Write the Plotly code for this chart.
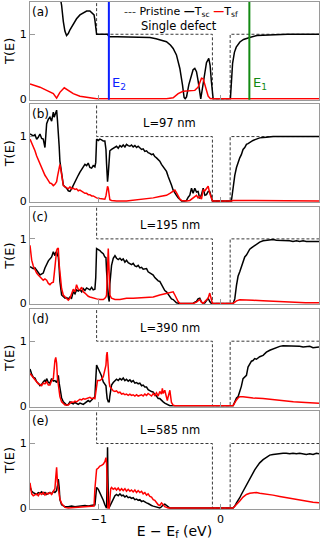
import plotly.graph_objects as go
from plotly.subplots import make_subplots

# energies of the marked levels in panel (a)
E1 = 0.238
E2 = -0.918

# pristine (clean ribbon) transmission step, same for every panel
pr_x = [-1.567, -1.019, -1.019, -0.066, -0.066, 0.08, 0.08, 0.811]
pr_y = [2, 2, 1, 1, 0, 0, 1, 1]

# (a) single defect
a_sc_x = [-1.567, -1.40, -1.33, -1.307, -1.293, -1.280, -1.266, -1.252, -1.238, -1.211, -1.184, -1.156,
          -1.129, -1.101, -1.074, -1.060, -1.047, -1.040, -1.033, -1.026, -1.019, -0.992, -0.964, -0.930,
          -0.918, -0.910, -0.85, -0.75, -0.65, -0.58, -0.53, -0.49, -0.444, -0.41, -0.389, -0.362, -0.334,
          -0.312, -0.299, -0.290, -0.279, -0.26, -0.24, -0.225, -0.211, -0.197, -0.184, -0.170, -0.162,
          -0.15, -0.13, -0.115, -0.096, -0.085, -0.075, -0.066, -0.060, 0.082, 0.09, 0.10, 0.115, 0.13,
          0.16, 0.19, 0.24, 0.30, 0.40, 0.55, 0.811]
a_sc_y = [3.0, 2.4, 1.7, 1.45, 1.20, 1.05, 0.98, 1.01, 1.07, 1.16, 1.24, 1.30,
          1.33, 1.36, 1.36, 1.34, 1.31, 1.30, 1.22, 1.05, 1.00, 1.00, 1.00, 1.00,
          0.97, 0.96, 0.96, 0.955, 0.95, 0.95, 0.93, 0.91, 0.885, 0.83, 0.78, 0.68, 0.47,
          0.21, 0.02, 0.0, 0.03, 0.22, 0.38, 0.45, 0.47, 0.42, 0.28, 0.10, 0.0,
          0.14, 0.42, 0.56, 0.625, 0.52, 0.28, 0.04, 0.0, 0.0, 0.30, 0.55, 0.72, 0.80,
          0.88, 0.92, 0.95, 0.98, 0.99, 1.0, 1.0]
a_sf_x = [-1.567, -1.485, -1.430, -1.375, -1.348, -1.321, -1.285, -1.252, -1.211, -1.156, -1.074, -1.019,
          -0.9, -0.444, -0.389, -0.348, -0.307, -0.252, -0.211, -0.184, -0.156, -0.142, -0.120, -0.101,
          -0.082, -0.066, 0.811]
a_sf_y = [0.23, 0.18, 0.13, 0.08, 0.01, 0.10, 0.17, 0.13, 0.08, 0.04, 0.015, 0.0,
          0.0, 0.0, 0.015, 0.08, 0.115, 0.125, 0.13, 0.18, 0.32, 0.31, 0.16, 0.04,
          0.0, 0.0, 0.0]

# (b) L = 97 nm
b_sc_x = [-1.567, -1.553, -1.540, -1.526, -1.512, -1.499, -1.485, -1.471, -1.458, -1.444, -1.437, -1.430,
          -1.416, -1.403, -1.389, -1.382, -1.375, -1.368, -1.362, -1.355, -1.348, -1.341, -1.334, -1.327,
          -1.321, -1.307, -1.293, -1.279, -1.266, -1.252, -1.238, -1.225, -1.211, -1.197, -1.184, -1.170,
          -1.156, -1.142, -1.129, -1.115, -1.101, -1.088, -1.074, -1.060, -1.047, -1.033, -1.026, -1.019,
          -1.005, -0.992, -0.978, -0.964, -0.951, -0.942, -0.937, -0.929, -0.923, -0.915, -0.910, -0.896,
          -0.882, -0.868, -0.855, -0.841, -0.827, -0.813, -0.800, -0.786, -0.773, -0.759, -0.745, -0.732,
          -0.718, -0.704, -0.690, -0.677, -0.663, -0.649, -0.636, -0.622, -0.608, -0.595, -0.581, -0.567,
          -0.553, -0.540, -0.526, -0.512, -0.499, -0.485, -0.471, -0.458, -0.444, -0.430, -0.416, -0.403,
          -0.389, -0.375, -0.362, -0.348, -0.334, -0.320, -0.293, -0.279, -0.265, -0.252, -0.238, -0.225,
          -0.211, -0.197, -0.184, -0.170, -0.156, -0.142, -0.128, -0.115, -0.101, -0.088, -0.074, -0.066,
          0.090, 0.097, 0.104, 0.118, 0.132, 0.145, 0.159, 0.172, 0.186, 0.200, 0.214, 0.227,
          0.241, 0.268, 0.296, 0.323, 0.378, 0.433, 0.542, 0.652, 0.811]
b_sc_y = [1.04, 1.03, 1.01, 1.03, 0.96, 0.99, 1.04, 0.97, 0.96, 0.83, 1.02, 1.20,
          1.27, 1.30, 1.24, 1.33, 1.38, 1.30, 1.33, 1.37, 1.41, 1.25, 1.09, 0.85,
          0.62, 0.41, 0.25, 0.22, 0.20, 0.16, 0.15, 0.19, 0.25, 0.30, 0.36, 0.40,
          0.45, 0.49, 0.52, 0.57, 0.55, 0.59, 0.52, 0.51, 0.55, 0.53, 0.60, 0.96,
          0.94, 0.96, 0.95, 0.93, 0.93, 0.80, 0.58, 0.30, 0.42, 0.70, 0.78, 0.80,
          0.82, 0.83, 0.85, 0.82, 0.86, 0.84, 0.87, 0.84, 0.88, 0.86, 0.85, 0.87,
          0.84, 0.86, 0.83, 0.85, 0.82, 0.80, 0.81, 0.77, 0.78, 0.75, 0.74, 0.72,
          0.73, 0.69, 0.67, 0.64, 0.62, 0.57, 0.53, 0.48, 0.46, 0.38, 0.32, 0.25,
          0.17, 0.12, 0.09, 0.05, 0.02, 0.00, 0.00, 0.01, 0.06, 0.09, 0.20, 0.12,
          0.20, 0.14, 0.15, 0.04, 0.10, 0.20, 0.09, 0.10, 0.15, 0.15, 0.06, 0.00,
          0.00, 0.10, 0.25, 0.40, 0.52, 0.60, 0.67, 0.72, 0.80, 0.83, 0.88, 0.89,
          0.91, 0.94, 0.96, 0.98, 0.99, 1.00, 1.00, 1.00, 1.00]
b_sf_x = [-1.567, -1.553, -1.540, -1.526, -1.512, -1.499, -1.485, -1.471, -1.458, -1.444, -1.430, -1.416,
          -1.403, -1.389, -1.375, -1.362, -1.348, -1.341, -1.334, -1.327, -1.321, -1.314, -1.307, -1.300,
          -1.293, -1.279, -1.266, -1.252, -1.238, -1.225, -1.211, -1.197, -1.184, -1.170, -1.156, -1.142,
          -1.129, -1.115, -1.101, -1.088, -1.074, -1.060, -1.047, -1.033, -1.019, -0.992, -0.964, -0.951,
          -0.942, -0.937, -0.929, -0.923, -0.915, -0.910, -0.896, -0.855, -0.773, -0.718, -0.663, -0.608,
          -0.553, -0.499, -0.444, -0.416, -0.389, -0.375, -0.362, -0.348, -0.334, -0.320, -0.279, -0.252,
          -0.225, -0.197, -0.184, -0.170, -0.156, -0.142, -0.128, -0.115, -0.101, -0.088, -0.074, -0.066,
          0.090, 0.104, 0.200, 0.400, 0.811]
b_sf_y = [0.96, 0.90, 0.86, 0.78, 0.70, 0.64, 0.57, 0.50, 0.44, 0.40, 0.36, 0.32,
          0.28, 0.27, 0.24, 0.26, 0.30, 0.38, 0.46, 0.55, 0.57, 0.50, 0.44, 0.33,
          0.24, 0.22, 0.21, 0.19, 0.22, 0.19, 0.20, 0.18, 0.19, 0.16, 0.17, 0.15,
          0.14, 0.12, 0.12, 0.10, 0.10, 0.08, 0.08, 0.06, 0.05, 0.04, 0.03, 0.03,
          0.08, 0.15, 0.23, 0.20, 0.06, 0.02, 0.01, 0.00, 0.00, 0.01, 0.02, 0.03,
          0.05, 0.07, 0.09, 0.12, 0.15, 0.17, 0.13, 0.08, 0.03, 0.01, 0.00, 0.01,
          0.05, 0.09, 0.05, 0.07, 0.03, 0.17, 0.16, 0.19, 0.23, 0.12, 0.03, 0.00,
          0.00, 0.01, 0.01, 0.005, 0.003]

# (c) L = 195 nm
c_sc_x = [-1.567, -1.553, -1.540, -1.526, -1.512, -1.499, -1.485, -1.471, -1.458, -1.444, -1.430, -1.416,
          -1.403, -1.389, -1.375, -1.368, -1.362, -1.355, -1.348, -1.341, -1.334, -1.327, -1.321, -1.307,
          -1.293, -1.279, -1.266, -1.252, -1.238, -1.225, -1.211, -1.197, -1.184, -1.170, -1.156, -1.142,
          -1.129, -1.115, -1.101, -1.088, -1.074, -1.060, -1.047, -1.033, -1.026, -1.019, -1.005, -0.992,
          -0.978, -0.964, -0.951, -0.942, -0.937, -0.932, -0.923, -0.915, -0.910, -0.896, -0.882, -0.868,
          -0.855, -0.841, -0.827, -0.813, -0.800, -0.786, -0.773, -0.759, -0.745, -0.732, -0.718, -0.704,
          -0.690, -0.677, -0.663, -0.649, -0.636, -0.622, -0.608, -0.595, -0.581, -0.567, -0.553, -0.540,
          -0.526, -0.512, -0.499, -0.485, -0.471, -0.458, -0.444, -0.430, -0.416, -0.403, -0.389, -0.375,
          -0.362, -0.334, -0.225, -0.211, -0.197, -0.184, -0.170, -0.156, -0.142, -0.128, -0.115, -0.101,
          -0.088, -0.074, 0.104, 0.118, 0.132, 0.145, 0.159, 0.172, 0.186, 0.200, 0.214, 0.227,
          0.241, 0.255, 0.268, 0.296, 0.323, 0.351, 0.378, 0.406, 0.433, 0.460, 0.488, 0.515,
          0.542, 0.570, 0.597, 0.625, 0.652, 0.680, 0.707, 0.735, 0.762, 0.790, 0.811]
c_sc_y = [0.57, 0.55, 0.54, 0.55, 0.52, 0.48, 0.44, 0.46, 0.47, 0.55, 0.62, 0.66,
          0.69, 0.72, 0.80, 0.76, 0.74, 0.79, 0.80, 0.75, 0.72, 0.55, 0.34, 0.13,
          0.10, 0.08, 0.09, 0.07, 0.10, 0.08, 0.18, 0.15, 0.21, 0.19, 0.21, 0.18,
          0.23, 0.20, 0.24, 0.23, 0.21, 0.25, 0.21, 0.22, 0.40, 0.85, 0.84, 0.82,
          0.79, 0.77, 0.72, 0.71, 0.50, 0.25, 0.10, 0.03, 0.30, 0.59, 0.70, 0.74,
          0.70, 0.68, 0.70, 0.67, 0.69, 0.64, 0.67, 0.63, 0.62, 0.60, 0.62, 0.58,
          0.57, 0.59, 0.55, 0.56, 0.53, 0.54, 0.54, 0.49, 0.47, 0.45, 0.44, 0.40,
          0.37, 0.35, 0.34, 0.29, 0.25, 0.20, 0.18, 0.14, 0.10, 0.07, 0.06, 0.03,
          0.01, 0.00, 0.00, 0.02, 0.03, 0.07, 0.08, 0.02, 0.00, 0.01, 0.04, 0.08,
          0.03, 0.00, 0.00, 0.07, 0.28, 0.42, 0.49, 0.56, 0.66, 0.72, 0.75, 0.79,
          0.84, 0.86, 0.88, 0.92, 0.95, 0.97, 0.98, 0.98, 0.99, 0.98, 0.98, 0.97,
          0.98, 0.97, 0.96, 0.97, 0.96, 0.97, 0.96, 0.96, 0.95, 0.96, 0.96]
c_sf_x = [-1.567, -1.560, -1.553, -1.540, -1.526, -1.512, -1.499, -1.485, -1.471, -1.458, -1.444, -1.430,
          -1.416, -1.403, -1.389, -1.375, -1.368, -1.362, -1.355, -1.348, -1.341, -1.334, -1.327, -1.321,
          -1.314, -1.307, -1.293, -1.279, -1.266, -1.252, -1.238, -1.225, -1.211, -1.197, -1.184, -1.170,
          -1.156, -1.142, -1.129, -1.115, -1.101, -1.088, -1.074, -1.060, -1.047, -1.033, -1.019, -0.992,
          -0.964, -0.951, -0.942, -0.937, -0.932, -0.929, -0.923, -0.918, -0.915, -0.910, -0.896, -0.868,
          -0.827, -0.773, -0.718, -0.663, -0.608, -0.553, -0.499, -0.458, -0.430, -0.403, -0.389, -0.375,
          -0.362, -0.348, -0.334, -0.225, -0.197, -0.170, -0.156, -0.142, -0.128, -0.115, -0.101, -0.088,
          -0.074, -0.066, 0.104, 0.132, 0.159, 0.200, 0.268, 0.350, 0.460, 0.570, 0.700, 0.811]
c_sf_y = [0.90, 0.80, 0.67, 0.58, 0.52, 0.47, 0.44, 0.41, 0.38, 0.36, 0.38, 0.36,
          0.31, 0.29, 0.32, 0.33, 0.45, 0.60, 0.74, 0.82, 0.85, 0.85, 0.60, 0.44,
          0.30, 0.23, 0.13, 0.10, 0.07, 0.05, 0.08, 0.16, 0.22, 0.18, 0.29, 0.22,
          0.21, 0.25, 0.18, 0.16, 0.13, 0.11, 0.10, 0.09, 0.08, 0.07, 0.07, 0.06,
          0.06, 0.08, 0.10, 0.13, 0.40, 0.70, 0.85, 0.60, 0.30, 0.13, 0.08, 0.06,
          0.06, 0.08, 0.08, 0.09, 0.09, 0.10, 0.13, 0.15, 0.16, 0.18, 0.18, 0.13,
          0.08, 0.03, 0.00, 0.00, 0.02, 0.06, 0.02, 0.00, 0.03, 0.06, 0.08, 0.16,
          0.02, 0.00, 0.00, 0.04, 0.056, 0.05, 0.05, 0.04, 0.03, 0.02, 0.01, 0.01]

# (d) L = 390 nm
d_sc_x = [-1.567, -1.560, -1.553, -1.540, -1.526, -1.512, -1.499, -1.485, -1.471, -1.458, -1.444, -1.437,
          -1.430, -1.416, -1.403, -1.389, -1.375, -1.362, -1.348, -1.341, -1.334, -1.327, -1.321, -1.307,
          -1.293, -1.279, -1.266, -1.252, -1.238, -1.225, -1.211, -1.197, -1.184, -1.170, -1.156, -1.142,
          -1.129, -1.115, -1.101, -1.088, -1.074, -1.060, -1.047, -1.033, -1.026, -1.019, -1.012, -1.005,
          -0.992, -0.978, -0.964, -0.951, -0.942, -0.937, -0.932, -0.923, -0.915, -0.910, -0.896, -0.882,
          -0.868, -0.855, -0.841, -0.827, -0.813, -0.800, -0.786, -0.773, -0.759, -0.745, -0.732, -0.718,
          -0.704, -0.690, -0.677, -0.663, -0.649, -0.636, -0.622, -0.608, -0.595, -0.581, -0.567, -0.553,
          -0.540, -0.526, -0.512, -0.499, -0.485, -0.471, -0.458, -0.444, -0.430, -0.416, 0.104, 0.118,
          0.132, 0.145, 0.159, 0.172, 0.186, 0.200, 0.214, 0.227, 0.241, 0.255, 0.268, 0.282,
          0.296, 0.323, 0.351, 0.378, 0.406, 0.433, 0.460, 0.488, 0.515, 0.542, 0.570, 0.597,
          0.625, 0.652, 0.680, 0.707, 0.735, 0.762, 0.790, 0.811]
d_sc_y = [0.57, 0.52, 0.49, 0.44, 0.43, 0.37, 0.35, 0.31, 0.33, 0.37, 0.40, 0.36,
          0.42, 0.36, 0.35, 0.42, 0.38, 0.39, 0.36, 0.40, 0.47, 0.35, 0.26, 0.12,
          0.06, 0.03, 0.01, 0.02, 0.06, 0.04, 0.03, 0.05, 0.03, 0.02, 0.04, 0.03,
          0.02, 0.04, 0.06, 0.08, 0.06, 0.09, 0.11, 0.14, 0.40, 0.63, 0.60, 0.57,
          0.53, 0.46, 0.37, 0.33, 0.31, 0.20, 0.11, 0.06, 0.06, 0.15, 0.32, 0.36,
          0.38, 0.41, 0.39, 0.42, 0.40, 0.43, 0.39, 0.41, 0.38, 0.40, 0.37, 0.39,
          0.35, 0.36, 0.34, 0.35, 0.31, 0.32, 0.29, 0.29, 0.25, 0.23, 0.22, 0.21,
          0.17, 0.15, 0.11, 0.11, 0.08, 0.06, 0.04, 0.03, 0.02, 0.00, 0.00, 0.05,
          0.12, 0.14, 0.22, 0.30, 0.42, 0.45, 0.47, 0.60, 0.65, 0.69, 0.70, 0.73,
          0.72, 0.76, 0.78, 0.83, 0.86, 0.88, 0.91, 0.92, 0.93, 0.93, 0.92, 0.93,
          0.92, 0.92, 0.91, 0.91, 0.92, 0.90, 0.91, 0.91]
d_sf_x = [-1.567, -1.553, -1.540, -1.526, -1.512, -1.499, -1.485, -1.471, -1.458, -1.444, -1.430, -1.416,
          -1.403, -1.389, -1.375, -1.368, -1.362, -1.355, -1.348, -1.341, -1.334, -1.327, -1.321, -1.307,
          -1.293, -1.279, -1.252, -1.238, -1.225, -1.211, -1.197, -1.184, -1.170, -1.156, -1.142, -1.129,
          -1.115, -1.101, -1.088, -1.074, -1.060, -1.047, -1.033, -1.019, -1.012, -0.992, -0.978, -0.964,
          -0.951, -0.942, -0.937, -0.932, -0.927, -0.921, -0.915, -0.910, -0.896, -0.882, -0.868, -0.855,
          -0.841, -0.827, -0.813, -0.800, -0.786, -0.773, -0.759, -0.745, -0.732, -0.718, -0.704, -0.690,
          -0.677, -0.663, -0.649, -0.636, -0.622, -0.608, -0.595, -0.581, -0.567, -0.553, -0.540, -0.526,
          -0.512, -0.499, -0.485, -0.478, -0.471, -0.458, -0.444, -0.437, -0.430, -0.423, -0.416, -0.410,
          -0.403, -0.389, -0.375, 0.104, 0.118, 0.132, 0.145, 0.159, 0.186, 0.214, 0.268, 0.350,
          0.433, 0.515, 0.600, 0.700, 0.811]
d_sf_y = [0.50, 0.47, 0.44, 0.41, 0.37, 0.34, 0.33, 0.31, 0.35, 0.34, 0.37, 0.32,
          0.32, 0.39, 0.42, 0.60, 0.70, 0.75, 0.66, 0.43, 0.32, 0.22, 0.14, 0.06,
          0.03, 0.01, 0.01, 0.04, 0.06, 0.05, 0.07, 0.06, 0.08, 0.10, 0.09, 0.11,
          0.10, 0.11, 0.11, 0.13, 0.11, 0.12, 0.11, 0.37, 0.39, 0.39, 0.41, 0.45,
          0.55, 0.63, 0.78, 0.83, 0.70, 0.45, 0.36, 0.30, 0.27, 0.23, 0.22, 0.23,
          0.20, 0.21, 0.18, 0.19, 0.17, 0.18, 0.16, 0.18, 0.16, 0.17, 0.15, 0.17,
          0.15, 0.16, 0.17, 0.15, 0.18, 0.16, 0.19, 0.17, 0.15, 0.19, 0.16, 0.20,
          0.15, 0.22, 0.18, 0.27, 0.19, 0.24, 0.13, 0.08, 0.14, 0.20, 0.24, 0.15,
          0.05, 0.01, 0.00, 0.00, 0.05, 0.09, 0.12, 0.14, 0.14, 0.13, 0.12, 0.11,
          0.09, 0.07, 0.06, 0.05, 0.04]

# (e) L = 585 nm
e_sc_x = [-1.567, -1.560, -1.553, -1.540, -1.526, -1.512, -1.499, -1.485, -1.471, -1.458, -1.444, -1.430,
          -1.416, -1.403, -1.389, -1.375, -1.362, -1.348, -1.341, -1.334, -1.327, -1.321, -1.307, -1.293,
          -1.279, -1.252, -1.225, -1.197, -1.170, -1.142, -1.115, -1.088, -1.060, -1.033, -1.026, -1.019,
          -1.005, -0.992, -0.978, -0.964, -0.951, -0.942, -0.937, -0.932, -0.929, -0.926, -0.921, -0.915,
          -0.910, -0.896, -0.882, -0.868, -0.855, -0.841, -0.827, -0.813, -0.800, -0.786, -0.773, -0.759,
          -0.745, -0.732, -0.718, -0.704, -0.690, -0.677, -0.663, -0.649, -0.636, -0.622, -0.608, -0.595,
          -0.581, -0.567, -0.553, -0.540, -0.526, -0.512, -0.499, -0.485, -0.471, -0.458, -0.444, -0.430,
          -0.416, 0.104, 0.118, 0.132, 0.145, 0.159, 0.172, 0.186, 0.200, 0.214, 0.227, 0.241,
          0.255, 0.268, 0.282, 0.296, 0.323, 0.351, 0.378, 0.406, 0.433, 0.460, 0.488, 0.515,
          0.542, 0.570, 0.597, 0.625, 0.652, 0.680, 0.707, 0.735, 0.762, 0.790, 0.811]
e_sc_y = [0.33, 0.29, 0.26, 0.24, 0.23, 0.21, 0.24, 0.23, 0.25, 0.22, 0.24, 0.21,
          0.23, 0.24, 0.22, 0.26, 0.24, 0.27, 0.35, 0.45, 0.32, 0.13, 0.05, 0.03,
          0.02, 0.02, 0.03, 0.02, 0.03, 0.03, 0.04, 0.03, 0.04, 0.05, 0.18, 0.32,
          0.29, 0.24, 0.17, 0.12, 0.05, 0.02, 0.00, 0.50, 0.94, 0.50, 0.02, 0.01,
          0.03, 0.08, 0.13, 0.19, 0.21, 0.19, 0.22, 0.19, 0.20, 0.17, 0.19, 0.16,
          0.17, 0.15, 0.16, 0.13, 0.14, 0.12, 0.13, 0.10, 0.11, 0.09, 0.08, 0.07,
          0.05, 0.04, 0.03, 0.02, 0.01, 0.00, 0.00, 0.02, 0.05, 0.06, 0.04, 0.02,
          0.00, 0.00, 0.03, 0.08, 0.11, 0.16, 0.21, 0.26, 0.30, 0.36, 0.41, 0.45,
          0.50, 0.55, 0.59, 0.63, 0.70, 0.75, 0.79, 0.82, 0.83, 0.84, 0.85, 0.85,
          0.85, 0.84, 0.85, 0.84, 0.85, 0.84, 0.83, 0.84, 0.83, 0.85, 0.84]
e_sf_x = [-1.567, -1.560, -1.553, -1.540, -1.526, -1.512, -1.499, -1.485, -1.471, -1.458, -1.444, -1.430,
          -1.416, -1.403, -1.389, -1.375, -1.362, -1.355, -1.348, -1.341, -1.334, -1.327, -1.321, -1.307,
          -1.293, -1.279, -1.252, -1.170, -1.101, -1.060, -1.040, -1.033, -1.026, -1.019, -1.005, -0.992,
          -0.978, -0.964, -0.951, -0.942, -0.937, -0.932, -0.926, -0.915, -0.910, -0.903, -0.896, -0.882,
          -0.868, -0.855, -0.841, -0.827, -0.813, -0.800, -0.786, -0.773, -0.759, -0.745, -0.732, -0.718,
          -0.704, -0.690, -0.677, -0.663, -0.649, -0.636, -0.622, -0.608, -0.595, -0.581, -0.567, -0.553,
          -0.540, -0.526, -0.512, -0.499, -0.485, -0.471, -0.458, -0.444, -0.430, 0.104, 0.132, 0.159,
          0.186, 0.214, 0.241, 0.268, 0.296, 0.323, 0.378, 0.433, 0.488, 0.542, 0.597, 0.652,
          0.707, 0.762, 0.811]
e_sf_y = [0.39, 0.28, 0.22, 0.19, 0.21, 0.22, 0.19, 0.23, 0.21, 0.24, 0.20, 0.23,
          0.22, 0.24, 0.21, 0.25, 0.30, 0.48, 0.63, 0.40, 0.28, 0.20, 0.14, 0.07,
          0.03, 0.01, 0.00, 0.01, 0.02, 0.02, 0.03, 0.30, 0.55, 0.60, 0.62, 0.65,
          0.66, 0.68, 0.72, 0.78, 0.70, 0.14, 0.00, 0.00, 0.15, 0.30, 0.32, 0.29,
          0.31, 0.28, 0.31, 0.27, 0.30, 0.27, 0.30, 0.26, 0.29, 0.26, 0.28, 0.25,
          0.28, 0.24, 0.27, 0.24, 0.26, 0.22, 0.24, 0.20, 0.22, 0.18, 0.17, 0.13,
          0.12, 0.08, 0.05, 0.04, 0.08, 0.05, 0.02, 0.01, 0.00, 0.00, 0.05, 0.11,
          0.17, 0.21, 0.23, 0.24, 0.24, 0.23, 0.22, 0.20, 0.18, 0.16, 0.14, 0.12,
          0.10, 0.09, 0.08]

panels = [
    ("(a)", a_sc_x, a_sc_y, a_sf_x, a_sf_y, None),
    ("(b)", b_sc_x, b_sc_y, b_sf_x, b_sf_y, "L=97 nm"),
    ("(c)", c_sc_x, c_sc_y, c_sf_x, c_sf_y, "L=195 nm"),
    ("(d)", d_sc_x, d_sc_y, d_sf_x, d_sf_y, "L=390 nm"),
    ("(e)", e_sc_x, e_sc_y, e_sf_x, e_sf_y, "L=585 nm"),
]

FONT = "DejaVu Sans"
FRAME = "#9a9a9a"

fig = make_subplots(rows=5, cols=1, shared_xaxes=True, vertical_spacing=0.009)

for i, (tag, scx, scy, sfx, sfy, label) in enumerate(panels, start=1):
    fig.add_trace(go.Scatter(x=pr_x, y=pr_y, mode="lines", name="Pristine",
                             line=dict(color="#3a3a3a", width=1, dash="3px,2px"),
                             showlegend=False), row=i, col=1)
    fig.add_trace(go.Scatter(x=scx, y=scy, mode="lines", name="T<sub>sc</sub>",
                             line=dict(color="black", width=1.5), showlegend=False), row=i, col=1)
    fig.add_trace(go.Scatter(x=sfx, y=sfy, mode="lines", name="T<sub>sf</sub>",
                             line=dict(color="red", width=1.5), showlegend=False), row=i, col=1)
    yref = "y" if i == 1 else f"y{i}"
    xref = "x" if i == 1 else f"x{i}"
    fig.add_annotation(text=tag, xref=f"{xref} domain", yref=f"{yref} domain",
                       x=0.0, y=0.99, xanchor="left", yanchor="top", showarrow=False,
                       font=dict(size=12, color="black"))
    if label:
        fig.add_annotation(text=label, xref=f"{xref} domain", yref=f"{yref} domain",
                           x=0.484, y=0.81, xanchor="center", yanchor="middle", showarrow=False,
                           font=dict(size=11.5, color="black"))

# level markers in panel (a)
fig.add_vline(x=E2, line=dict(color="#0a1eff", width=2), row=1, col=1)
fig.add_vline(x=E1, line=dict(color="#138a13", width=2), row=1, col=1)
fig.add_annotation(text="E<sub>2</sub>", x=E2 + 0.01, y=0.23, xref="x", yref="y",
                   xanchor="left", yanchor="middle", showarrow=False,
                   font=dict(size=13, color="#0a1eff"))
fig.add_annotation(text="E<sub>1</sub>", x=E1 + 0.01, y=0.23, xref="x", yref="y",
                   xanchor="left", yanchor="middle", showarrow=False,
                   font=dict(size=13, color="#138a13"))

# compact legend and caption in panel (a)
fig.add_annotation(text="<span style='color:#3a3a3a'>---</span> Pristine "
                        "<b>—</b>T<sub>sc</sub> <span style='color:red'><b>—</b></span>T<sub>sf</sub>",
                   xref="x domain", yref="y domain", x=0.318, y=0.895,
                   xanchor="left", yanchor="middle", showarrow=False,
                   font=dict(size=11, color="black"))
fig.add_annotation(text="Single defect", xref="x domain", yref="y domain", x=0.516, y=0.75,
                   xanchor="center", yanchor="middle", showarrow=False,
                   font=dict(size=11.5, color="black"))

fig.update_xaxes(range=[-1.567, 0.811], tickvals=[-1, 0], ticktext=["\u22121", "0"],
                 ticks="inside", ticklen=5, tickcolor=FRAME, showline=True, linecolor=FRAME,
                 linewidth=1, mirror=True, showgrid=False, zeroline=False, automargin=False,
                 tickfont=dict(size=11, color="black"))
fig.update_yaxes(range=[-0.015, 1.5], tickvals=[0, 1], ticktext=["0", "1"],
                 ticks="inside", ticklen=5, tickcolor=FRAME, showline=True, linecolor=FRAME,
                 linewidth=1, mirror=True, showgrid=False, zeroline=False, automargin=False,
                 tickfont=dict(size=11, color="black"),
                 title=dict(text="T(E)", font=dict(size=13, color="black"), standoff=2))
fig.update_xaxes(title=dict(text="E \u2212 E<sub>f</sub> (eV)", font=dict(size=14, color="black"),
                            standoff=0), row=5, col=1)

fig.update_layout(width=324, height=543, margin=dict(l=30, r=5, t=2, b=34),
                  paper_bgcolor="white", plot_bgcolor="white",
                  font=dict(family=FONT, color="black"), showlegend=False)

# the page body keeps its default 8px margin otherwise
fig.write_html("out.html", config={"displayModeBar": False},
               post_script="document.body.style.margin='0px';")
